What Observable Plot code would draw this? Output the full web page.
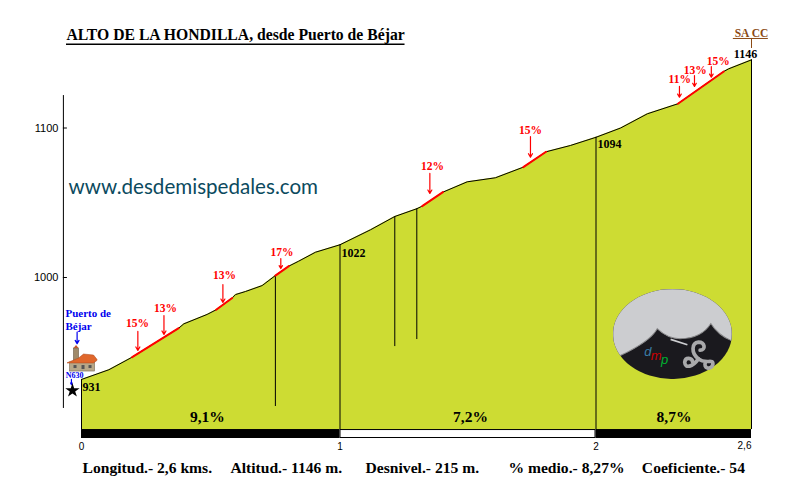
<!DOCTYPE html>
<html><head><meta charset="utf-8">
<script src="https://cdn.jsdelivr.net/npm/d3@7"></script>
<script src="https://cdn.jsdelivr.net/npm/@observablehq/plot@0.6"></script>
<style>html,body{margin:0;padding:0;background:#fff}svg{display:block}</style>
</head><body><div id="chart"></div>
<script>
const SERIF = '"Liberation Serif", serif';
const SANS = '"Liberation Sans", sans-serif';

const kms = [0,0.106,0.196,0.376,0.396,0.486,0.521,0.583,0.596,0.634,0.699,0.750,0.802,0.840,0.905,1,1.119,1.214,1.300,1.321,1.402,1.497,1.607,1.716,1.805,1.900,2,2.095,2.198,2.316,2.493,2.512,2.6];
const altitudes = [931.8,938.3,946.7,966.1,969.0,975.3,978.4,986.3,988.6,990.6,994.6,1001.3,1007.6,1010.9,1016.9,1021.9,1031.9,1040.8,1046.0,1047.7,1057.1,1064.0,1066.7,1073.8,1084.1,1088.3,1093.8,1100,1109.5,1116.2,1137.8,1139.6,1145.6];
const profile = kms.map((km,i)=>({km,alt:altitudes[i]}));
const baseAlt = 898.3, bandBottom = 892.3;

const steepStart = [0.196,0.521,0.750,1.321,1.716,2.316];
const steepEnd   = [0.376,0.583,0.802,1.402,1.805,2.493];
const steep = steepStart.flatMap((a,i)=>profile.filter(d=>d.km>=a&&d.km<=steepEnd[i]).map(d=>({...d,seg:i})));

const slopeText  = ["15%","13%","13%","17%","12%","15%","11%","13%","15%"];
const slopeTextX = [0.217,0.325,0.553,0.776,1.361,1.744,2.323,2.383,2.472];
const slopeTextY = [969.2,979.3,1001.3,1016.9,1074.4,1098.3,1132.3,1138.9,1144.7];
const arrowX     = [0.218,0.319,0.547,0.771,1.351,1.744,2.322,2.380,2.445];
const arrowTop   = [963.9,974.6,995.3,1012.7,1069.6,1094.3,1127.8,1135.1,1141.1];
const arrowEnd   = [951.2,961.9,983.3,1006,1056.2,1080.5,1120.6,1127.8,1134];
const slopes = slopeText.map((t,i)=>({t,tx:slopeTextX[i],ty:slopeTextY[i],ax:arrowX[i],a1:arrowTop[i],a2:arrowEnd[i]}));

const dropX   = [0,0.750,1.214,1.300,1,2,2.6];
const dropTop = [931.8,1001.3,1040.8,1046,1021.9,1093.8,1145.6];
const dropEnd = [baseAlt,913.7,953.8,958.5,baseAlt,baseAlt,baseAlt];
const drops = dropX.map((x,i)=>({x,y1:dropEnd[i],y2:dropTop[i]}));

const bandStart = [0,1,2], bandEnd = [1,2,2.6], bandFill = ["#000","#fff","#000"];
const bands = bandStart.map((a,i)=>({a,b:bandEnd[i],f:bandFill[i]}));

const avgText = ["9,1%","7,2%","8,7%"], avgX = [0.487,1.510,2.301];
const altText = ["931","1022","1094"], altX = [0.004,1.006,2.006], altY = [926.4,1016,1089];

const footText = ["Longitud.- 2,6 kms.","Altitud.- 1146 m.","Desnivel.- 215 m.","% medio.- 8,27%","Coeficiente.- 54"];
const footX = [0.004,0.576,1.100,1.658,2.177];
const footAlt = 872.9;

const logoSvg = `<svg xmlns="http://www.w3.org/2000/svg" viewBox="0 0 355 268" preserveAspectRatio="none">
<ellipse cx="177.5" cy="134" rx="177.5" ry="134" fill="#1a191e"/>
<clipPath id="c"><ellipse cx="177.5" cy="134" rx="177.5" ry="134"/></clipPath>
<path clip-path="url(#c)" d="M0 0H355V153L352 153C330 145 305 125 292 103C275 130 245 148 200 148C175 148 150 135 132 118C115 150 70 175 22 198L0 210Z" fill="#cccdd0" stroke="#8a8a8c" stroke-width="3"/>
<path d="M172 150L222 166" stroke="#cccdd0" stroke-width="5" fill="none"/>
<g fill="none" stroke="#a9a9ab" stroke-width="11" stroke-linecap="round">
<path d="M255 208C232 190 235 160 255 158C275 158 278 182 260 182"/>
<path d="M255 208C238 232 215 238 214 218C216 202 236 204 238 218"/>
<path d="M255 208C278 226 300 205 298 225C292 243 268 236 276 218"/>
</g></svg>`;
const houseSvg = `<svg xmlns="http://www.w3.org/2000/svg" viewBox="0 0 31 27" preserveAspectRatio="none">
<rect x="7" y="3" width="5" height="14" fill="#a08a6a" stroke="#6b5a45" stroke-width=".6"/>
<path d="M7 3L9.5 0L12 3Z" fill="#c2562a"/>
<rect x="3" y="17" width="25" height="9" fill="#b8a888" stroke="#7a6a52" stroke-width=".6"/>
<path d="M0 18L12 13L17 9L27 10L31 15L27 18Z" fill="#e0672b" stroke="#a84a20" stroke-width=".5"/>
<rect x="7" y="20" width="3" height="3" fill="#555"/><rect x="15" y="20" width="3" height="4" fill="#555"/><rect x="22" y="20" width="3" height="3" fill="#555"/>
</svg>`;
const uri = s => "data:image/svg+xml," + encodeURIComponent(s);

const chart = Plot.plot({
  width: 800, height: 500,
  marginTop: 0, marginRight: 0, marginBottom: 0, marginLeft: 0,
  style: {background: "#fff", color: "#000"},
  x: {type: "linear", domain: [0,1,2,2.6], range: [81,339.5,595.5,751]},
  y: {type: "linear", domain: [850.83,1185.3], range: [500,0]},
  marks: [
    Plot.areaY(profile, {x:"km", y1:()=>baseAlt, y2:"alt", fill:"#cddc33"}),
    Plot.ruleX(drops, {x:"x", y1:"y1", y2:"y2", stroke:"#000", strokeWidth:1}),
    Plot.line(profile, {x:"km", y:"alt", stroke:"#000", strokeWidth:1}),
    Plot.line(steep, {x:"km", y:"alt", z:"seg", stroke:"#f00", strokeWidth:2}),
    Plot.rect(bands, {x1:"a", x2:"b", y1:()=>bandBottom, y2:()=>baseAlt, fill:"f", stroke:"#000", inset:0.5}),
    Plot.ruleX([-0.07], {y1:()=>912.4, y2:()=>1121.7, stroke:"#000", strokeWidth:1}),
    Plot.axisY({ticks:[1000,1100], anchor:"left", x:-0.07, tickSize:-4, tickPadding:9, label:null, tickFormat:d=>String(d), fontSize:11, fontFamily:SANS}),
    Plot.axisX({ticks:[0,1,2], anchor:"bottom", y:bandBottom, tickSize:0, tickPadding:3, dy:1, label:null, tickFormat:d=>String(d), fontSize:10, fontFamily:SANS}),
    Plot.axisX({ticks:[2.6], anchor:"bottom", y:bandBottom, tickSize:0, tickPadding:3, dx:-7, label:null, tickFormat:d=>String(d).replace(".",","), fontSize:10, fontFamily:SANS}),
    Plot.arrow(slopes, {x:"ax", y1:"a1", y2:"a2", stroke:"#f00", strokeWidth:1.2, headLength:5}),
    Plot.text(slopes, {x:"tx", y:"ty", text:"t", fill:"#f00", fontFamily:SERIF, fontWeight:"bold", fontSize:11.5}),
    Plot.text(avgText, {x:(d,i)=>avgX[i], y:()=>906.4, text:d=>d, fontFamily:SERIF, fontWeight:"bold", fontSize:15.5}),
    Plot.text(altText, {x:(d,i)=>altX[i], y:(d,i)=>altY[i], text:d=>d, textAnchor:"start", fontFamily:SERIF, fontWeight:"bold", fontSize:12}),
    Plot.text(["1146"], {x:()=>2.577, y:()=>1149.6, text:d=>d, fontFamily:SERIF, fontWeight:"bold", fontSize:12}),
    Plot.text(["SA CC"], {x:()=>2.6, y:()=>1163.4, text:d=>d, fill:"#8b4a14", fontFamily:SERIF, fontWeight:"bold", fontSize:11.5}),
    Plot.ruleY([1159.9], {x1:()=>2.53, x2:()=>2.665, stroke:"#8b4a14", strokeWidth:1}),
    Plot.ruleX([2.6], {y1:()=>1153.2, y2:()=>1159.9, stroke:"#8b4a14", strokeWidth:1}),
    Plot.text(["ALTO DE LA HONDILLA, desde Puerto de Béjar"], {x:()=>-0.058, y:()=>1162, text:d=>d, textAnchor:"start", fontFamily:SERIF, fontWeight:"bold", fontSize:15.7}),
    Plot.ruleY([1156], {x1:()=>-0.058, x2:()=>1.254, stroke:"#000", strokeWidth:1.5}),
    Plot.text(["www.desdemispedales.com"], {x:()=>-0.05, y:()=>1060, text:d=>d, textAnchor:"start", fill:"#0b4a5e", fontFamily:"Lato", fontSize:20.6}),
    Plot.text(["Puerto de","Béjar"], {x:()=>-0.062, y:(d,i)=>[975.7,967.2][i], text:d=>d, textAnchor:"start", fill:"#0000ee", fontFamily:SERIF, fontWeight:"bold", fontSize:11}),
    Plot.arrow([0], {x:()=>-0.017, y1:()=>963.4, y2:()=>955.7, stroke:"#0000ee", strokeWidth:1.2, headLength:5}),
    Plot.image([{src:uri(houseSvg)}], {x:()=>0.002, y:()=>945.8, width:31, height:27, src:"src", preserveAspectRatio:"none"}),
    Plot.text(["N630"], {x:()=>-0.027, y:()=>934.4, text:d=>d, fill:"#0000ee", fontFamily:SERIF, fontWeight:"bold", fontSize:8}),
    Plot.arrow([0], {x:()=>-0.039, y1:()=>931.8, y2:()=>928.4, stroke:"#0000ee", strokeWidth:1.2, headLength:4}),
    Plot.dot([0], {x:()=>-0.035, y:()=>924.4, symbol:"star", r:4.5, fill:"#000"}),
    Plot.image([{src:uri(logoSvg)}], {x:()=>2.295, y:()=>962.2, width:119, height:90, src:"src", preserveAspectRatio:"none"}),
    Plot.text(["d","m","p"], {x:(d,i)=>[2.2,2.232,2.265][i], y:(d,i)=>[950.2,947.5,945][i], text:d=>d, fill:(d,i)=>["#3a7ca5","#cc0000","#00b030"][i], fontFamily:SANS, fontStyle:"italic", fontSize:13}),
    Plot.text(footText, {x:(d,i)=>footX[i], y:()=>footAlt, text:d=>d, textAnchor:"start", fontFamily:SERIF, fontWeight:"bold", fontSize:15.6})
  ]
});
document.getElementById("chart").append(chart);
</script></body></html>
